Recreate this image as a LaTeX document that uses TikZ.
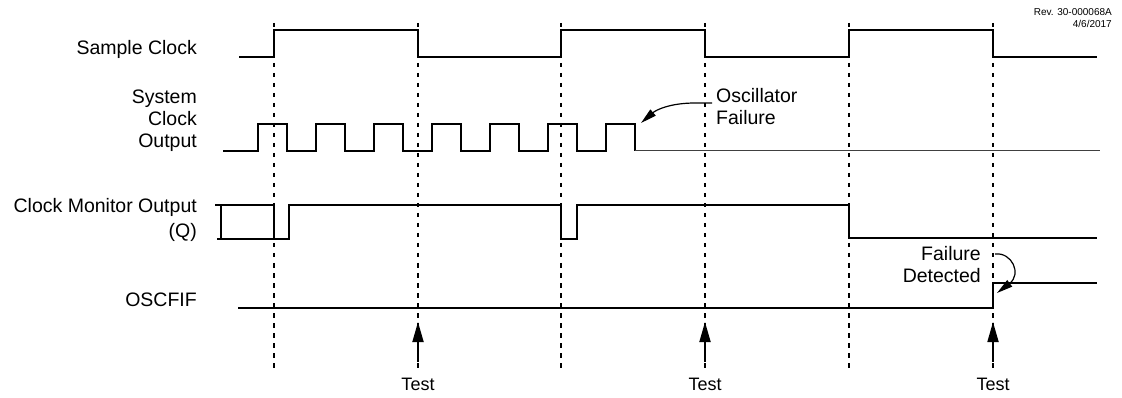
\documentclass[tikz,border=0pt]{standalone}
\usepackage{fontspec}
\setmainfont{Liberation Sans}
\usetikzlibrary{arrows.meta}
\begin{document}
\begin{tikzpicture}[x=1pt,y=-1pt,
  sig/.style={line width=1.8pt, line join=miter},
  thinsig/.style={line width=1pt, draw=black!75},
  guide/.style={line width=1.8pt, dash pattern=on 4.5pt off 5.5pt},
  lbl/.style={inner sep=0pt, font=\fontsize{19.5}{22}\selectfont},
  testlbl/.style={inner sep=0pt, font=\fontsize{18}{22}\selectfont},
  rev/.style={inner sep=0pt, font=\fontsize{10}{12}\selectfont, anchor=base east},
  testarrow/.style={line width=1.8pt, -{Triangle[length=20pt,width=11pt]}},
  leader/.style={line width=1.2pt, -{Triangle[length=16pt,width=8pt]}}]
\useasboundingbox (0,0) rectangle (1122,398);

% guides
\foreach \x in {274,418,561,705,849,993}
  \draw[guide] (\x,23) -- (\x,370);

% labels
\node[lbl, anchor=base east] (lsc) at (197,55) {Sample Clock};
\node[lbl, anchor=base east] (lsys1) at (197,104) {System};
\node[lbl, anchor=base east] (lsys2) at (197,126) {Clock};
\node[lbl, anchor=base east] (lsys3) at (197,148) {Output};
\node[lbl, anchor=base east] (lcm1) at (197,213) {Clock Monitor Output};
\node[lbl, anchor=base east] (lcm2) at (197,237) {(Q)};
\node[lbl, anchor=base east] (losc) at (197,306) {OSCFIF};
\node[rev] (rev1) at (1112,16) {Rev. 30-000068A};
\node[rev] (rev2) at (1112,28) {4/6/2017};

% sample clock
\draw[sig] (239,57) -- (274,57) -- (274,30) -- (418,30) -- (418,57) -- (561,57)
  -- (561,30) -- (705,30) -- (705,57) -- (849,57) -- (849,30) -- (993,30)
  -- (993,57) -- (1097,57);

% system clock output
\draw[sig] (223,151) -- (258,151)
  -- (258,124) -- (287,124) -- (287,151) -- (316,151)
  -- (316,124) -- (345,124) -- (345,151) -- (374,151)
  -- (374,124) -- (403,124) -- (403,151) -- (432,151)
  -- (432,124) -- (461,124) -- (461,151) -- (490,151)
  -- (490,124) -- (519,124) -- (519,151) -- (548,151)
  -- (548,124) -- (577,124) -- (577,151) -- (606,151)
  -- (606,124) -- (635,124) -- (635,151);
\draw[thinsig] (635,151) -- (1100,151);

% clock monitor output
\draw[sig] (215,205) -- (274,205) -- (274,239);
\draw[sig] (217,239) -- (289,239) -- (289,205) -- (561,205) -- (561,239)
  -- (577,239) -- (577,205) -- (849,205) -- (849,238) -- (1097,238);
\draw[sig] (221,205) -- (221,239);

% OSCFIF
\draw[sig] (238,308) -- (993,308) -- (993,283) -- (1097,283);

% test arrows
\foreach \x/\n in {418/a,705/b,993/c} {
  \node[testlbl, anchor=base] (test\n) at (\x,390) {Test};
  \coordinate (tt\n) at (\x,322);
  \draw[testarrow] (test\n.north |- 0,362) -- (tt\n);
}

% oscillator failure
\node[lbl, anchor=base west] (of1) at (716,103) {Oscillator};
\node[lbl, anchor=base west] (of2) at (716,125) {Failure};
\coordinate (ofa) at (712,103);
\coordinate (ofb) at (695,103);
\coordinate (oft) at (641,123);
\draw[leader] (ofa) -- (ofb) .. controls (670,103) and (656,110) .. (oft);

% failure detected
\node[lbl, anchor=base east] (fd1) at (981,261) {Failure};
\node[lbl, anchor=base east] (fd2) at (981,283) {Detected};
\coordinate (fda) at (995,254);
\coordinate (fdt) at (997,293);
\draw[leader] (fda) .. controls (1012,252) and (1022,274) .. (fdt);
\end{tikzpicture}
\end{document}
